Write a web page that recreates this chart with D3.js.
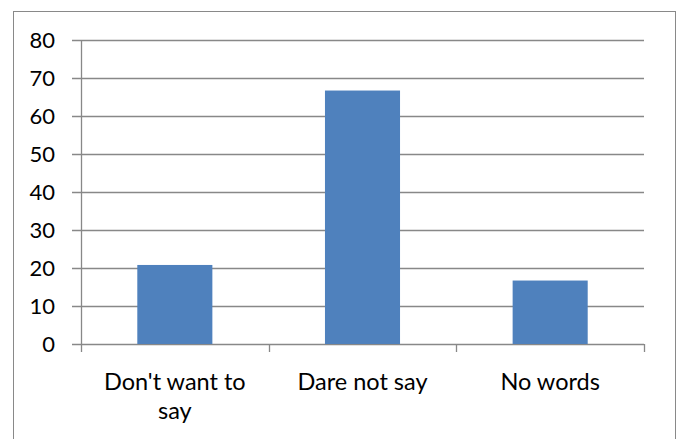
<!DOCTYPE html>
<html>
<head>
<meta charset="utf-8">
<script src="https://cdn.jsdelivr.net/npm/d3@7"></script>
<style>
  body { margin: 0; background: #fff; }
  svg { display: block; font-family: Lato, "Open Sans", sans-serif; }
</style>
</head>
<body>
<div id="chart"></div>
<script>
// valeurs
var categories = [["Don't want to", "say"], ["Dare not say"], ["No words"]];
var values = [20.8, 66.7, 16.7];
var yTicks = [0, 10, 20, 30, 40, 50, 60, 70, 80];

var width = 680, height = 439;
var margin = {top: 40, right: 36, bottom: 95, left: 81};

var svg = d3.select("#chart")
    .append("svg")
    .attr("width", width)
    .attr("height", height);

// cadre exterieur
svg.append("rect")
    .attr("x", 13.5)
    .attr("y", 11.5)
    .attr("width", 662)
    .attr("height", 440)
    .attr("fill", "none")
    .attr("stroke", "#898989");

var x = d3.scaleBand()
    .domain(d3.range(categories.length))
    .range([margin.left, width - margin.right])
    .paddingInner(0.6)
    .paddingOuter(0.3);

var y = d3.scaleLinear()
    .domain([0, 80])
    .range([height - margin.bottom, margin.top]);

var g = svg.append("g");

// grille
g.append("g")
  .selectAll("line")
  .data(yTicks)
  .enter().append("line")
    .attr("x1", margin.left - 9)
    .attr("x2", width - margin.right)
    .attr("y1", function(d) { return Math.round(y(d)) + 0.5; })
    .attr("y2", function(d) { return Math.round(y(d)) + 0.5; })
    .attr("stroke", "#888")
    .attr("stroke-width", 1.3);

// barres
g.append("g")
  .selectAll("rect")
  .data(values)
  .enter().append("rect")
    .attr("x", function(d, i) { return x(i); })
    .attr("y", function(d) { return y(d); })
    .attr("width", x.bandwidth())
    .attr("height", function(d) { return y(0) - y(d); })
    .attr("fill", "#4f81bd");

// axe y
g.append("line")
    .attr("x1", margin.left + 0.5)
    .attr("x2", margin.left + 0.5)
    .attr("y1", y(80))
    .attr("y2", y(0) + 8)
    .attr("stroke", "#888")
    .attr("stroke-width", 1.3);

// ticks x (limites des categories)
var step = x.step();
g.append("g")
  .selectAll("line")
  .data(d3.range(1, categories.length + 1))
  .enter().append("line")
    .attr("x1", function(d) { return Math.round(margin.left + d * step) + 0.5; })
    .attr("x2", function(d) { return Math.round(margin.left + d * step) + 0.5; })
    .attr("y1", y(0))
    .attr("y2", y(0) + 8)
    .attr("stroke", "#888")
    .attr("stroke-width", 1.3);

// libelles y
g.append("g")
  .attr("text-anchor", "end")
  .selectAll("text")
  .data(yTicks)
  .enter().append("text")
    .attr("x", 55)
    .attr("y", function(d) { return y(d); })
    .attr("dy", "0.36em")
    .attr("font-size", 22)
    .attr("fill", "#000")
    .text(function(d) { return d; });

// libelles x
var lab = g.append("g")
  .attr("text-anchor", "middle")
  .selectAll("text")
  .data(categories)
  .enter().append("text")
    .attr("font-size", 23.5)
    .attr("fill", "#000")
    .attr("transform", function(d, i) { return "translate(" + (x(i) + x.bandwidth() / 2) + "," + 390 + ")"; });

lab.selectAll("tspan")
  .data(function(d) { return d; })
  .enter().append("tspan")
    .attr("x", 0)
    .attr("y", function(d, i) { return i * 29; })
    .text(function(d) { return d; });
</script>
</body>
</html>
